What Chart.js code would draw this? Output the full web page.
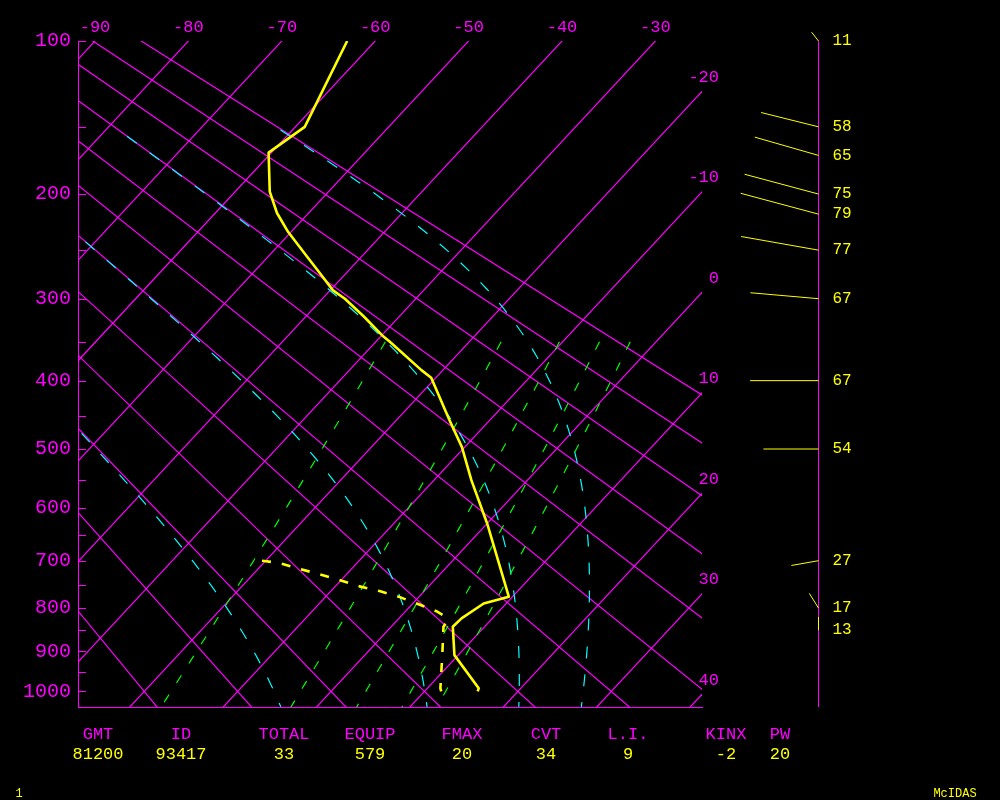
<!DOCTYPE html>
<html>
<head>
<meta charset="utf-8">
<script src="https://cdn.jsdelivr.net/npm/chart.js@4.4.1/dist/chart.umd.min.js"></script>
<style>
  html, body { margin: 0; padding: 0; background: #000; }
  #wrap { position: relative; width: 1000px; height: 800px; }
  #wrap canvas { position: absolute; left: 0; top: 0; }
  .t { position: absolute; font-family: "Liberation Mono", monospace; font-size: 17px;
       transform: translate(-50%, -50%); white-space: pre; }
  .lab { color: #ff00ff; }
  .val { color: #ffff00; }
  .small { font-size: 12px; color: #ffff00; }
</style>
</head>
<body>
<div id="wrap"><canvas id="c" width="1000" height="800"></canvas></div>
<script>
// Stuve-type sounding: y axis is p^kappa, isotherms skewed to the right.
const KAPPA = 0.2857;
const SKEW = 18.66;              // deg C of skew per unit of p^kappa
const MAGENTA = "#ff00ff", YELLOW = "#ffff00", CYAN = "#00ffff", GREEN = "#00ff00";

// ── diagram background ─────────────────────────────────────────────
const pressureTicks = [100, 150, 200, 250, 300, 350, 400, 450, 500, 550, 600, 650, 700, 750, 800, 850, 900, 950, 1000];
const isotherms = [-90, -80, -70, -60, -50, -40, -30, -20, -10, 0, 10, 20, 30, 40];
const topTempLabels = [-90, -80, -70, -60, -50, -40, -30];
const rightTempLabels = [-20, -10, 0, 10, 20, 30, 40];
const dryAdiabats = [-20, -10, 0, 10, 20, 30, 40, 50, 60, 70, 80, 90];   // theta, deg C
const moistAdiabats = [0, 30, 60, 90];                                   // theta-e, deg C
const mixingRatios = [1, 3, 5, 7, 9];                                    // g/kg

// ── sounding ───────────────────────────────────────────────────────
const tempP = [100, 150, 168, 198, 216, 233, 256, 273, 291, 300, 320, 342, 350, 386, 396, 456, 497, 551, 628, 775, 790, 823, 842, 909, 992, 1000];
const tempC = [-63.0, -59.0, -60.3, -56.3, -53.4, -50.3, -45.9, -42.8, -39.7, -37.6, -33.8, -30.0, -28.5, -22.3, -20.5, -14.3, -10.3, -6.0, 0.0, 9.6, 7.6, 6.7, 6.6, 9.6, 15.5, 15.7];
const dewP = [700, 705, 717, 728, 740, 753, 763, 775, 791, 807, 818, 829, 842, 909, 992, 1000];
const dewC = [-20.4, -18.2, -15.5, -12.8, -10.1, -7.4, -4.8, -2.2, 0.6, 3.3, 4.7, 5.4, 5.6, 8.3, 11.4, 11.8];

// ── winds (speed, direction deg) ───────────────────────────────────
const windP = [100, 150, 170, 200, 217, 250, 300, 400, 500, 700, 800, 850];
const windSpeed = [11, 58, 65, 75, 79, 77, 67, 67, 54, 27, 17, 13];
const windDir = [322, 284, 286, 285, 285, 280, 275, 270, 270, 260, 328, 360];

// ── index table under the chart ────────────────────────────────────
const statNames = ["GMT", "ID", "TOTAL", "EQUIP", "FMAX", "CVT", "L.I.", "KINX", "PW"];
const statValues = ["81200", "93417", "33", "579", "20", "34", "9", "-2", "20"];
const statX = [98, 181, 284, 370, 462, 546, 628, 726, 780];

const pk = p => Math.pow(p, KAPPA);
const PK_TOP = pk(100), PK_BOTTOM = pk(1041);
const X_MIN = -91.82, X_MAX = -25.01;
const pt = (t, p) => ({ x: t - SKEW * (pk(p) - PK_TOP), y: pk(p) });

function satVap(t) { return 6.112 * Math.exp(17.67 * t / (t + 243.5)); }
function thetaE(t, p) {
  const tk = t + 273.15, es = satVap(t), ws = 0.622 * es / (p - es);
  return tk * Math.pow(1000 / p, KAPPA) * Math.exp(2.5e6 * ws / (1005 * tk));
}
function moistT(thk, p) {
  let lo = -130, hi = 60;
  for (let i = 0; i < 50; i++) {
    const mid = (lo + hi) / 2;
    if (thetaE(mid, p) > thk) hi = mid; else lo = mid;
  }
  return (lo + hi) / 2;
}
function mixT(w, p) {
  const e = w * p / (622 + w), l = Math.log(e / 6.112);
  return 243.5 * l / (17.67 - l);
}
const range = (a, b, s) => { const r = []; for (let v = a; s > 0 ? v <= b : v >= b; v += s) r.push(v); return r; };

function lineSet(data, color, width, dash) {
  return { data, showLine: true, borderColor: color, backgroundColor: color, borderWidth: width,
           borderDash: dash || [], pointRadius: 0, fill: false, tension: 0, borderJoinStyle: "round" };
}

const datasets = [
  lineSet(tempP.map((p, i) => pt(tempC[i], p)), YELLOW, 2.6),
  lineSet(dewP.map((p, i) => pt(dewC[i], p)), YELLOW, 2.6, [9, 11]),
  ...mixingRatios.map(w => lineSet(range(350, 1060, 10).map(p => pt(mixT(w, p), p)), GREEN, 1.2, [9, 14])),
  ...moistAdiabats.map(th => lineSet(range(1060, 150, -10).map(p => pt(moistT(th + 273.15, p), p)), CYAN, 1.2, [12, 16])),
  ...dryAdiabats.map(th => lineSet([60, 1100].map(p => pt((th + 273.15) * Math.pow(p / 1000, KAPPA) - 273.15, p)), MAGENTA, 1.2)),
  ...isotherms.map(t => lineSet([pt(t, 60), pt(t, 1100)], MAGENTA, 1.2)),
];

// inner pressure ticks, right-hand isotherm labels and the wind column
const extras = {
  id: "extras",
  afterDraw(chart) {
    const { ctx, chartArea: a, scales: { y } } = chart;
    ctx.save();
    ctx.lineWidth = 1;
    ctx.strokeStyle = MAGENTA;
    ctx.beginPath();
    for (const p of pressureTicks) {
      const yy = Math.round(y.getPixelForValue(pk(p))) + 0.5;
      ctx.moveTo(a.left, yy);
      ctx.lineTo(a.left + 8, yy);
    }
    ctx.stroke();

    ctx.fillStyle = MAGENTA;
    ctx.font = '17px "Liberation Mono", monospace';
    ctx.textAlign = "right";
    ctx.textBaseline = "middle";
    for (const t of rightTempLabels) {
      const yy = y.getPixelForValue(PK_TOP + (t - X_MAX) / SKEW) - 14;
      ctx.fillText(String(t), a.right + 17, yy);
    }

    const wx = a.right + 116.5;
    ctx.beginPath();
    ctx.moveTo(wx, a.top);
    ctx.lineTo(wx, a.bottom);
    ctx.stroke();

    ctx.strokeStyle = YELLOW;
    ctx.fillStyle = YELLOW;
    ctx.textAlign = "left";
    ctx.font = '16px "Liberation Mono", monospace';
    windP.forEach((p, i) => {
      const yy = y.getPixelForValue(pk(p));
      const len = windSpeed[i] * 1.02, d = windDir[i] * Math.PI / 180;
      ctx.beginPath();
      ctx.moveTo(wx, yy);
      ctx.lineTo(wx + len * Math.sin(d), yy - len * Math.cos(d));
      ctx.stroke();
      ctx.fillText(String(windSpeed[i]), wx + 14, yy);
    });
    ctx.restore();
  }
};

new Chart(document.getElementById("c"), {
  type: "scatter",
  data: { datasets },
  options: {
    responsive: false,
    animation: false,
    events: [],
    layout: { padding: { left: 0, top: 0, right: 298, bottom: 93 } },
    scales: {
      x: {
        type: "linear", position: "top", min: X_MIN, max: X_MAX,
        afterBuildTicks: s => { s.ticks = topTempLabels.map(v => ({ value: v })); },
        afterFit: s => { s.height = 41; },
        ticks: { color: MAGENTA, font: { family: "Liberation Mono", size: 17 }, padding: 3, autoSkip: false, maxRotation: 0 },
        grid: { display: false, drawTicks: false },
        border: { display: false },
      },
      xb: {
        axis: "x", type: "linear", position: "bottom", min: X_MIN, max: X_MAX,
        afterFit: s => { s.height = 0; },
        ticks: { display: false },
        grid: { display: false, drawTicks: false },
        border: { display: true, color: MAGENTA, width: 1 },
      },
      y: {
        type: "linear", reverse: true, min: PK_TOP, max: PK_BOTTOM,
        afterBuildTicks: s => { s.ticks = pressureTicks.map(p => ({ value: pk(p) })); },
        afterFit: s => { s.width = 78; },
        ticks: {
          color: MAGENTA, font: { family: "Liberation Mono", size: 20 }, padding: 7, autoSkip: false,
          callback: v => { const p = Math.round(Math.pow(v, 1 / KAPPA)); return p % 100 === 0 ? String(p) : ""; },
        },
        grid: { display: false, drawTicks: false },
        border: { display: true, color: MAGENTA, width: 1 },
      },
    },
    plugins: { legend: { display: false }, tooltip: { enabled: false } },
  },
  plugins: [extras],
});

// index table
const wrap = document.getElementById("wrap");
statNames.forEach((n, i) => {
  for (const [txt, cls, top] of [[n, "lab", 734], [statValues[i], "val", 754]]) {
    const d = document.createElement("div");
    d.className = "t " + cls;
    d.style.left = statX[i] + "px";
    d.style.top = top + "px";
    d.textContent = txt;
    wrap.appendChild(d);
  }
});
for (const [txt, x] of [["1", 19], ["McIDAS", 955]]) {
  const d = document.createElement("div");
  d.className = "t small";
  d.style.left = x + "px";
  d.style.top = "794px";
  d.textContent = txt;
  wrap.appendChild(d);
}
</script>
</body>
</html>
